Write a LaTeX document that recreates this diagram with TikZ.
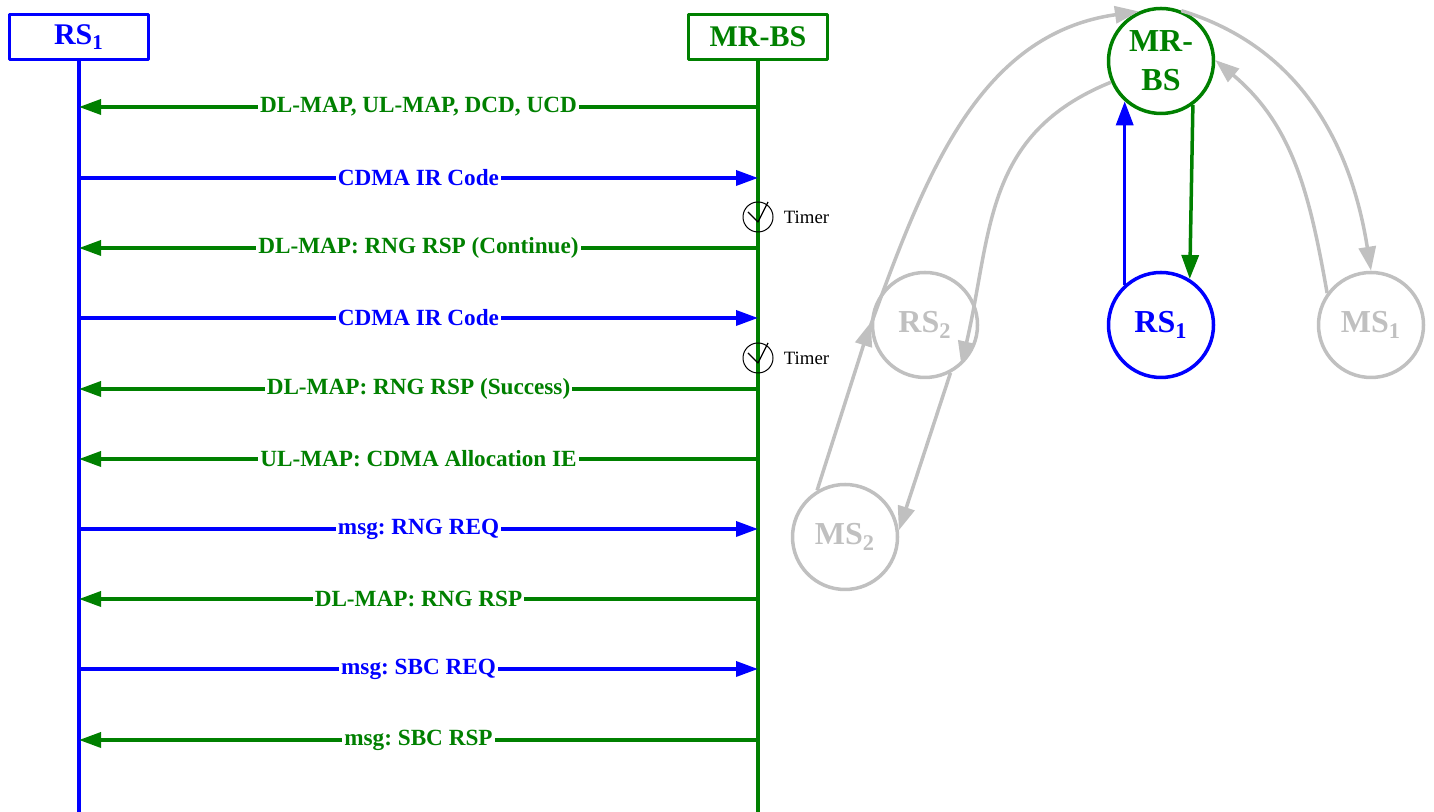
\documentclass[tikz,border=0pt]{standalone}
\usepackage{fontspec}
\setmainfont{Liberation Serif}
\usetikzlibrary{arrows.meta}
\definecolor{rsblue}{RGB}{0,0,255}
\definecolor{bsgreen}{RGB}{0,128,0}
\definecolor{offgray}{RGB}{192,192,192}
\frenchspacing
\begin{document}
\begin{tikzpicture}[x=0.5pt,y=0.5pt,>={Triangle[length=11pt,width=7.5pt]}, line join=round,
		head/.style={draw,line width=1.75pt,minimum width=69.5pt,minimum height=22.5pt,inner sep=0pt,font=\fontsize{15}{18}\selectfont\bfseries},
		msg/.style={fill=white,inner xsep=1pt,inner ysep=0pt,font=\fontsize{11.6}{13}\selectfont\bfseries},
		dl/.style={->,draw=bsgreen,text=bsgreen,line width=1.75pt},
		ul/.style={->,draw=rsblue,text=rsblue,line width=1.75pt},
		timer/.style={circle,draw,line width=0.5pt,minimum size=15pt,inner sep=0pt},
		station/.style={circle,draw,line width=1.75pt,minimum size=52.5pt,inner sep=0pt,align=center,font=\fontsize{16}{19.5}\selectfont\bfseries},
		link/.style={-{Triangle[length=12pt,width=8.5pt]},draw=offgray,line width=1.75pt}]
		\useasboundingbox (0,0) rectangle (1434,812);
		% lifelines
		\node[head,draw=rsblue,text=rsblue] (rs) at (79,775) {RS\textsubscript{1}};
		\node[head,draw=bsgreen,text=bsgreen] (bs) at (758,775) {MR-BS};
		\draw[rsblue,line width=1.75pt] (rs.south) -- (rs.south |- 0,0);
		\draw[bsgreen,line width=1.75pt] (bs.south) -- (bs.south |- 0,0);
		% MR-BS -> RS1
		\foreach \y/\txt in {705/{DL-MAP, UL-MAP, DCD, UCD},564/{DL-MAP: RNG RSP (Continue)},423/{DL-MAP: RNG RSP (Success)},353/{UL-MAP: CDMA Allocation IE},213/{DL-MAP: RNG RSP},72/{msg: SBC RSP}}
		\draw[dl] (bs.south |- 0,\y) -- node[msg]{\txt} (rs.south |- 0,\y);
		% RS1 -> MR-BS
		\foreach \y/\txt in {634/{CDMA IR Code},494/{CDMA IR Code},283/{msg: RNG REQ},143/{msg: SBC REQ}}
		\draw[ul] (rs.south |- 0,\y) -- node[msg]{\txt} (bs.south |- 0,\y);
		% timers
		\foreach \y [count=\i] in {595,454} {
			\node[timer] (t\i) at (bs.south |- 0,\y) {};
			\draw[line width=0.6pt] ([shift={(-10,5)}]t\i.center) -- ([shift={(0,-5)}]t\i.center) -- ([shift={(10,15)}]t\i.center);
			\node[anchor=west,inner sep=0pt,font=\fontsize{9.4}{11}\selectfont] at ([xshift=5pt]t\i.east) {Timer};
		}
		% topology
		\node[station,draw=bsgreen,text=bsgreen] (mrbs) at (1161,751) {MR-\\BS};
		\node[station,draw=rsblue,text=rsblue] (rsa) at (1161,487) {RS\textsubscript{1}};
		\node[station,draw=offgray,text=offgray] (rsb) at (925,487) {RS\textsubscript{2}};
		\node[station,draw=offgray,text=offgray] (msa) at (1371,487) {MS\textsubscript{1}};
		\node[station,draw=offgray,text=offgray] (msb) at (845,275) {MS\textsubscript{2}};
		\draw[link] (rsb.180) to[out=70,in=188] (mrbs.114);
		\draw[link] (mrbs.203) to[out=202,in=77,looseness=1.1] (rsb.-48);
		\draw[link] (mrbs.68) to[out=-17,in=99] (msa.north);
		\draw[link] (msa.144) to[out=100,in=-40] (mrbs.1);
		\draw[link] (msb.121) -- (rsb.177);
		\draw[link] (rsb.-62) -- (msb.7);
		\draw[link,draw=rsblue] (rsa.132) -- (mrbs.228);
		\draw[link,draw=bsgreen] (mrbs.306) -- (rsa.58);
\end{tikzpicture}
\end{document}
